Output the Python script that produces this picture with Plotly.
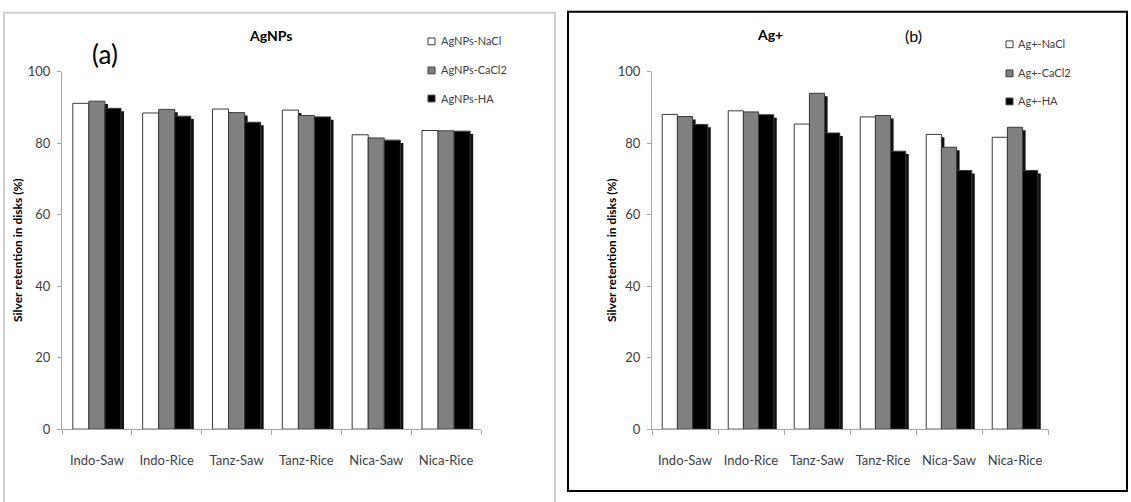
import plotly.graph_objects as go

W, H = 1131, 502

categories = ["Indo-Saw", "Indo-Rice", "Tanz-Saw", "Tanz-Rice", "Nica-Saw", "Nica-Rice"]

# Panel (a): AgNPs
agnps_names = ["AgNPs-NaCl", "AgNPs-CaCl2", "AgNPs-HA"]
agnps_nacl = [91.2, 88.5, 89.6, 89.3, 82.4, 83.6]
agnps_cacl2 = [91.8, 89.5, 88.6, 87.8, 81.5, 83.5]
agnps_ha = [89.8, 87.6, 85.9, 87.4, 80.9, 83.4]

# Panel (b): Ag+
agion_names = ["Ag+-NaCl", "Ag+-CaCl2", "Ag+-HA"]
agion_nacl = [88.1, 89.1, 85.4, 87.4, 82.5, 81.7]
agion_cacl2 = [87.5, 88.8, 94.0, 87.8, 78.9, 84.5]
agion_ha = [85.3, 88.0, 82.9, 77.8, 72.4, 72.4]

y_ticks = [0, 20, 40, 60, 80, 100]
y_title = "Silver retention in disks (%)"

fills = ["#ffffff", "#808080", "#000000"]
FONT = "Lato, 'Open Sans', sans-serif"
AXIS_GREY = "#a6a6a6"
TEXT_GREY = "#404040"


def px_x(p):
    return p / W


def px_y(p):
    return 1 - p / H


# Plot-area geometry (pixels)
left_area = dict(x0=62, x1=481, top=66, bottom=435)
right_area = dict(x0=652, x1=1048, top=66, bottom=435)
SHADOW = 3  # drop-shadow offset in px

fig = go.Figure()

panels = [
    (left_area, [agnps_nacl, agnps_cacl2, agnps_ha], agnps_names, ("x", "y"), ("x3", "y3")),
    (right_area, [agion_nacl, agion_cacl2, agion_ha], agion_names, ("x2", "y2"), ("x4", "y4")),
]

for area, series, names, shadow_axes, main_axes in panels:
    # drop shadows (drawn first, underneath)
    for vals, name in zip(series, names):
        fig.add_trace(go.Bar(
            x=categories, y=vals, name=name, showlegend=False,
            marker=dict(color="#111111", line=dict(width=0)),
            xaxis=shadow_axes[0], yaxis=shadow_axes[1], hoverinfo="skip",
        ))
    # bars
    for vals, name, col in zip(series, names, fills):
        fig.add_trace(go.Bar(
            x=categories, y=vals, name=name, showlegend=False,
            marker=dict(color=col, line=dict(color="#3a3a3a", width=1)),
            xaxis=main_axes[0], yaxis=main_axes[1],
        ))


def main_xaxis(area, yref):
    return dict(
        domain=[px_x(area["x0"]), px_x(area["x1"])], anchor=yref,
        type="category", range=[-0.5, 5.5],
        showline=True, linecolor=AXIS_GREY, linewidth=1,
        ticks="outside", tickson="boundaries", ticklen=5, tickcolor=AXIS_GREY,
        tickfont=dict(family=FONT, size=13, color=TEXT_GREY),
        ticklabelstandoff=19, showgrid=False, zeroline=False, fixedrange=True,
    )


def main_yaxis(area, xref):
    return dict(
        domain=[px_y(area["bottom"]), px_y(area["top"])], anchor=xref,
        range=[0, 100], tickvals=y_ticks,
        showline=True, linecolor=AXIS_GREY, linewidth=1,
        ticks="outside", ticklen=4, tickcolor=AXIS_GREY,
        tickfont=dict(family=FONT, size=13, color=TEXT_GREY),
        ticklabelstandoff=4, showgrid=False, zeroline=False, fixedrange=True,
    )


def shadow_xaxis(area, yref):
    return dict(
        domain=[px_x(area["x0"] + SHADOW), px_x(area["x1"] + SHADOW)], anchor=yref,
        type="category", range=[-0.5, 5.5], visible=False, fixedrange=True,
    )


def shadow_yaxis(area, xref):
    scale = (area["bottom"] - area["top"]) / 100.0
    top = area["top"] + SHADOW
    low = 100 - (area["bottom"] - top) / scale
    return dict(
        domain=[px_y(area["bottom"]), px_y(top)], anchor=xref,
        range=[low, 100], visible=False, fixedrange=True,
    )


fig.update_layout(
    width=W, height=H, margin=dict(l=0, r=0, t=0, b=0),
    paper_bgcolor="white", plot_bgcolor="rgba(0,0,0,0)",
    barmode="group", bargap=0.31, bargroupgap=0,
    showlegend=False,
    font=dict(family=FONT, color=TEXT_GREY),
    xaxis=shadow_xaxis(left_area, "y"), yaxis=shadow_yaxis(left_area, "x"),
    xaxis2=shadow_xaxis(right_area, "y2"), yaxis2=shadow_yaxis(right_area, "x2"),
    xaxis3=main_xaxis(left_area, "y3"), yaxis3=main_yaxis(left_area, "x3"),
    xaxis4=main_xaxis(right_area, "y4"), yaxis4=main_yaxis(right_area, "x4"),
)

shapes = [
    # light frame around panel (a)
    dict(type="rect", xref="paper", yref="paper",
         x0=px_x(4), x1=px_x(555), y0=px_y(520), y1=px_y(5),
         line=dict(color="#cfcfcf", width=2), fillcolor="rgba(0,0,0,0)", layer="below"),
    # black frame around panel (b)
    dict(type="rect", xref="paper", yref="paper",
         x0=px_x(568), x1=px_x(1127), y0=px_y(499), y1=px_y(4),
         line=dict(color="black", width=2), fillcolor="rgba(0,0,0,0)", layer="below"),
]

annotations = []


def text(x, y, s, size, bold=False, color="black", angle=0, xanchor="center"):
    annotations.append(dict(
        x=px_x(x), y=px_y(y), xref="paper", yref="paper", text=(f"<b>{s}</b>" if bold else s),
        showarrow=False, textangle=angle, xanchor=xanchor, yanchor="middle",
        font=dict(family=FONT, size=size, color=color),
    ))


# titles and panel letters
text(270, 28, "AgNPs", 14, bold=True)
text(105, 48, "(a)", 26, color="black")
text(770, 27, "Ag+", 14, bold=True)
text(913, 28, "(b)", 16, color="black")

# y-axis titles
text(17, 250, y_title, 12, bold=True, angle=-90)
text(611, 250, y_title, 12, bold=True, angle=-90)

# legends
legend_specs = [
    (agnps_names, 432, 439, [34, 64, 93]),
    (agion_names, 1010, 1016, [37, 67, 96]),
]
for names, sx, tx, rows in legend_specs:
    for name, col, ry in zip(names, fills, rows):
        shapes.append(dict(
            type="rect", xref="paper", yref="paper",
            x0=px_x(sx - 4), x1=px_x(sx + 3), y0=px_y(ry + 4), y1=px_y(ry - 3),
            fillcolor=col, line=dict(color="#3a3a3a", width=1),
        ))
        text(tx, ry, name, 11, color=TEXT_GREY, xanchor="left")

fig.update_layout(shapes=shapes, annotations=annotations)

fig.write_html("out.html")
